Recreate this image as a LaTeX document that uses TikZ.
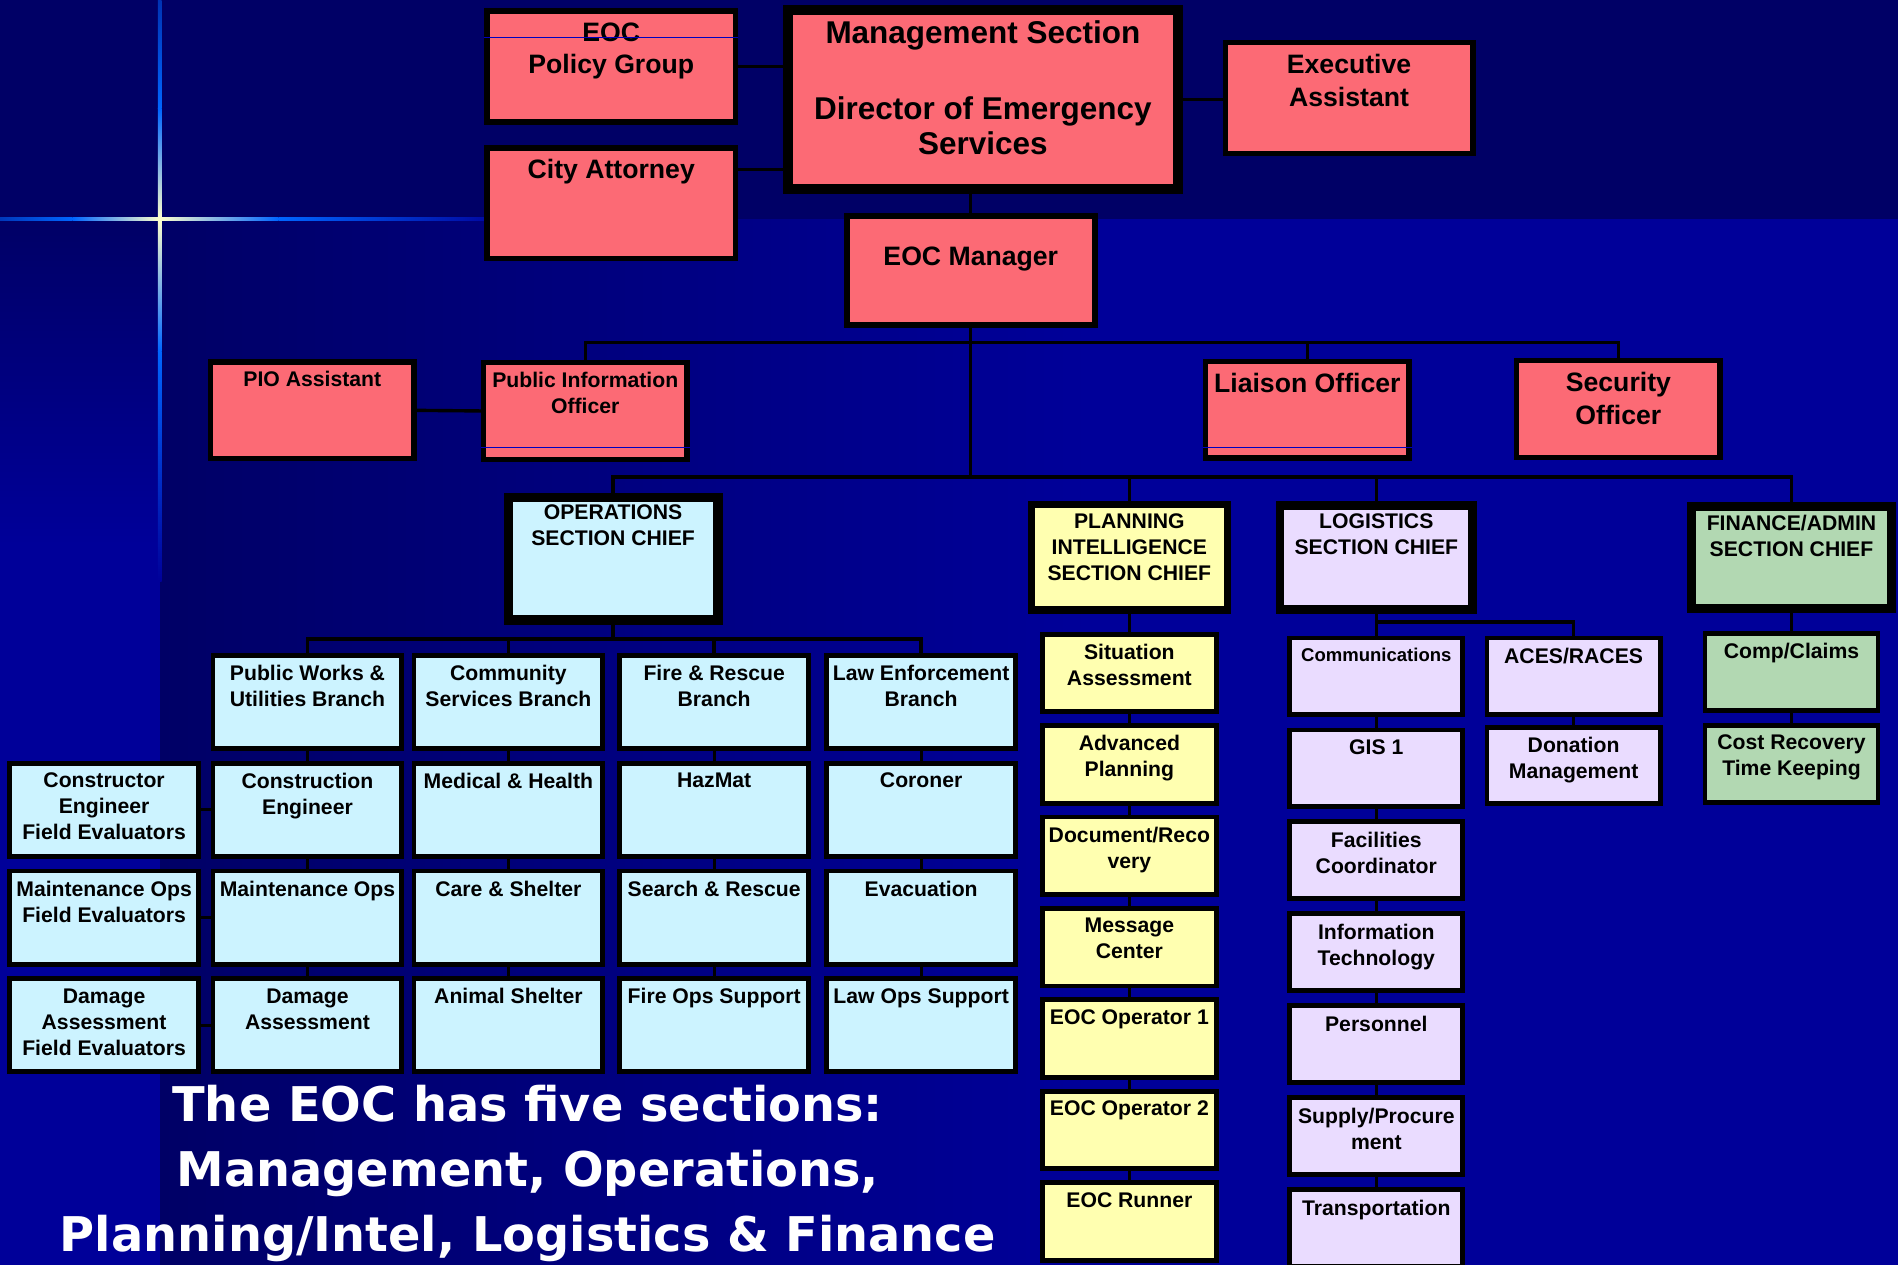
\documentclass[tikz,border=0pt]{standalone}
\usepackage{fontspec}
\setmainfont{Liberation Sans}
\newfontfamily\slidefont{DejaVu Sans}
\usetikzlibrary{positioning}

\definecolor{navy}{HTML}{000066}
\definecolor{slideblue}{HTML}{000099}
\definecolor{glow}{HTML}{0066FF}
\definecolor{glowcore}{HTML}{FFFFCC}
\definecolor{salmon}{HTML}{FC6A75}
\definecolor{opscyan}{HTML}{CCF3FF}
\definecolor{planyellow}{HTML}{FFFFB0}
\definecolor{loglilac}{HTML}{EADCFF}
\definecolor{fingreen}{HTML}{B2D8B2}

\begin{document}
\begin{tikzpicture}[
x=1pt, y=-1pt,
lab/.style={anchor=north, align=center, inner sep=0pt, font=\fontsize{17.5}{21.5}\selectfont\bfseries},
biglab/.style={lab, font=\fontsize{22}{27}\selectfont\bfseries},
txt/.style={label={[lab, yshift=-10pt]north:{#1}}},
bigtxt/.style={label={[biglab, yshift=-11.5pt]north:{#1}}},
box/.style={draw=black, line width=4pt, inner sep=0pt},
redbox/.style={box, fill=salmon, line width=4.5pt},
officer/.style={redbox, minimum width=168pt, minimum height=80pt},
chief/.style={box, line width=7pt},
ops/.style={box, fill=opscyan, minimum width=156pt, minimum height=77pt},
plan/.style={box, fill=planyellow, minimum width=144pt, minimum height=64pt},
logi/.style={box, fill=loglilac, minimum width=143pt, minimum height=63pt},
fin/.style={box, fill=fingreen, minimum width=143pt, minimum height=64pt},
wire/.style={draw=black, line width=2.8pt},
stub/.style={draw=black, line width=2.4pt},
crease/.style={draw=blue!75!black, line width=1pt}
]
\useasboundingbox (0,0) rectangle (1568,1045);
\fill[navy] (0,0) rectangle (1568,1045);
\fill[slideblue] (132,181) rectangle (1568,1045);
\shade[left color=navy, right color=slideblue] (132,181) rectangle (900,1045);
\shade[top color=navy, bottom color=slideblue] (0,181) rectangle (132,450);
\fill[slideblue] (0,450) rectangle (132,1045);
\shade[left color=glow!55!navy, right color=glow] (0,179.5) rectangle (60,182.5);
\shade[left color=glow, right color=glowcore] (60,179.5) rectangle (132,182.5);
\shade[left color=glowcore, right color=glow] (132,179.5) rectangle (230,182.5);
\shade[left color=glow, right color=slideblue] (230,179.5) rectangle (420,182.5);
\shade[top color=glow!50!navy, bottom color=glow] (130.5,0) rectangle (133.5,90);
\shade[top color=glow, bottom color=glowcore] (130.5,90) rectangle (133.5,181);
\shade[top color=glowcore, bottom color=glow] (130.5,181) rectangle (133.5,290);
\shade[top color=glow, bottom color=slideblue] (130.5,290) rectangle (133.5,480);

\node[redbox, minimum width=205.5pt, minimum height=91.5pt, bigtxt={EOC\\Policy Group}] (policy) at (505,55) {};
\node[redbox, minimum width=205.5pt, minimum height=91.5pt, bigtxt={City Attorney}] (attorney) at (505,168) {};
\node[redbox, line width=8pt, minimum width=322pt, minimum height=148pt,
  label={[lab, yshift=-12.5pt, font=\fontsize{26}{29}\selectfont\bfseries]north:{Management Section\\[33.8pt]Director of Emergency\\Services}}] (director) at (812,82) {};
\node[redbox, minimum width=204.5pt, minimum height=91.5pt, bigtxt={Executive\\Assistant}] (exec) at (1114.5,81) {};
\node[redbox, line width=5pt, minimum width=205pt, minimum height=90pt,
  label={[biglab, yshift=-27.5pt]north:EOC Manager}] (manager) at (802,223.5) {};
\node[officer, txt={PIO Assistant}] (pioassist) at (258,339) {};
\node[officer, txt={Public Information\\Officer}] (pio) at (483.5,339.5) {};
\node[officer, bigtxt={Liaison Officer}] (liaison) at (1080,338.5) {};
\node[officer, bigtxt={Security\\Officer}] (security) at (1337,338) {};

\node[chief, fill=opscyan, line width=8pt, minimum width=173pt, minimum height=101pt, txt={OPERATIONS\\SECTION CHIEF}] (ops) at (506.5,461.5) {};
\node[chief, fill=planyellow, line width=6pt, minimum width=162pt, minimum height=87pt, txt={PLANNING\\INTELLIGENCE\\SECTION CHIEF}] (planning) at (933,460.5) {};
\node[chief, fill=loglilac, minimum width=159pt, minimum height=86pt, txt={LOGISTICS\\SECTION CHIEF}] (logistics) at (1137,460.5) {};
\node[chief, fill=fingreen, minimum width=165pt, minimum height=84pt, txt={FINANCE/ADMIN\\SECTION CHIEF}] (finance) at (1480,460.5) {};

\node[ops, txt={Public Works \&\\Utilities Branch}] (pubworks) at (254,580) {};
\node[ops, txt={Community\\Services Branch}] (community) at (420,580) {};
\node[ops, txt={Fire \& Rescue\\Branch}] (fire) at (590,580) {};
\node[ops, txt={Law Enforcement\\Branch}] (lawenf) at (761,580) {};
\node[ops, below=8pt of pubworks, txt={Construction\\Engineer}] (construction) {};
\node[ops, below=8pt of construction, txt={Maintenance Ops}] (maintops) {};
\node[ops, below=8pt of maintops, txt={Damage\\Assessment}] (damage) {};
\node[ops, left=8pt of construction, txt={Constructor\\Engineer\\Field Evaluators}] (fieldeng) {};
\node[ops, left=8pt of maintops, txt={Maintenance Ops\\Field Evaluators}] (fieldmaint) {};
\node[ops, left=8pt of damage, txt={Damage\\Assessment\\Field Evaluators}] (fielddamage) {};
\node[ops, below=8pt of community, txt={Medical \& Health}] (medical) {};
\node[ops, below=8pt of medical, txt={Care \& Shelter}] (care) {};
\node[ops, below=8pt of care, txt={Animal Shelter}] (animal) {};
\node[ops, below=8pt of fire, txt={HazMat}] (hazmat) {};
\node[ops, below=8pt of hazmat, txt={Search \& Rescue}] (search) {};
\node[ops, below=8pt of search, txt={Fire Ops Support}] (fireops) {};
\node[ops, below=8pt of lawenf, txt={Coroner}] (coroner) {};
\node[ops, below=8pt of coroner, txt={Evacuation}] (evacuation) {};
\node[ops, below=8pt of evacuation, txt={Law Ops Support}] (lawops) {};

\node[plan, below=15pt of planning, txt={Situation\\Assessment}] (situation) {};
\node[plan, below=7.5pt of situation, txt={Advanced\\Planning}] (advanced) {};
\node[plan, below=7.5pt of advanced, txt={Document/Reco\\very}] (document) {};
\node[plan, below=7.5pt of document, txt={Message\\Center}] (message) {};
\node[plan, below=7.5pt of message, txt={EOC Operator 1}] (operator1) {};
\node[plan, below=7.5pt of operator1, txt={EOC Operator 2}] (operator2) {};
\node[plan, below=7.5pt of operator2, txt={EOC Runner}] (runner) {};

\node[logi, below=18pt of logistics,
  label={[lab, yshift=-10pt, font=\fontsize{15.3}{18}\selectfont\bfseries]north:Communications}] (comms) {};
\node[logi, right=16pt of comms, txt={ACES/RACES}] (aces) {};
\node[logi, below=7pt of aces, txt={Donation\\Management}] (donation) {};
\node[logi, below=9pt of comms, txt={GIS 1}] (gis) {};
\node[logi, below=9pt of gis, txt={Facilities\\Coordinator}] (facilities) {};
\node[logi, below=9pt of facilities, txt={Information\\Technology}] (infotech) {};
\node[logi, below=9pt of infotech, txt={Personnel}] (personnel) {};
\node[logi, below=9pt of personnel, txt={Supply/Procure\\ment}] (supply) {};
\node[logi, below=9pt of supply, txt={Transportation}] (transport) {};

\node[fin, below=15pt of finance, txt={Comp/Claims}] (comp) {};
\node[fin, below=8pt of comp, txt={Cost Recovery\\Time Keeping}] (costrecovery) {};

\coordinate (topbus) at (802,283);
\coordinate (sectionbus) at (802,394);
\coordinate (opsbus) at (506.5,528);
\coordinate (logbus) at (1137,514);

\draw[wire] (policy.east) -- (policy.east -| director.west);
\draw[wire] ([yshift=28pt]attorney.east) -- ([yshift=28pt]attorney.east -| director.west);
\draw[wire] (director.east) -- (director.east -| exec.west);
\draw[wire] (director.south -| manager.north) -- (manager.north);
\draw[wire] (manager.south) -- (sectionbus);
\draw[wire] (pio.north) |- (topbus) -| (security.north);
\draw[wire] (liaison.north) -- (liaison.north |- topbus);
\draw[wire] (pioassist.east) -- (pio.west);
\draw[wire] (ops.north) |- (sectionbus) -| (finance.north);
\draw[wire] (planning.north) -- (planning.north |- sectionbus);
\draw[wire] (logistics.north) -- (logistics.north |- sectionbus);
\draw[wire] (ops.south) -- (opsbus);
\draw[wire] (pubworks.north) |- (opsbus) -| (lawenf.north);
\draw[wire] (community.north) -- (community.north |- opsbus);
\draw[wire] (fire.north) -- (fire.north |- opsbus);
\draw[wire] (logbus) -| (aces.north);
\foreach \upper/\lower in {pubworks/construction, construction/maintops, maintops/damage,
  community/medical, medical/care, care/animal, fire/hazmat, hazmat/search, search/fireops,
  lawenf/coroner, coroner/evacuation, evacuation/lawops,
  planning/situation, situation/advanced, advanced/document, document/message,
  message/operator1, operator1/operator2, operator2/runner,
  logistics/comms, comms/gis, gis/facilities, facilities/infotech, infotech/personnel,
  personnel/supply, supply/transport, aces/donation, finance/comp, comp/costrecovery}
  \draw[stub] (\upper.south) -- (\lower.north);
\foreach \outer/\inner in {fieldeng/construction, fieldmaint/maintops, fielddamage/damage}
  \draw[stub] (\outer.east) -- (\inner.west);

\draw[crease] ([yshift=-24pt]policy.north west) -- ([yshift=-24pt]policy.north east);
\draw[crease] ([yshift=12pt]pio.south west) -- ([yshift=12pt]pio.south east);
\draw[crease] ([yshift=11pt]liaison.south west) -- ([yshift=11pt]liaison.south east);

\node[anchor=north, align=center, inner sep=0pt, text=white,
  font=\slidefont\bfseries\fontsize{39.5}{53.7}\selectfont] (caption) at (436,896)
  {The EOC has five sections:\\Management, Operations,\\Planning/Intel, Logistics \& Finance};
\end{tikzpicture}
\end{document}
